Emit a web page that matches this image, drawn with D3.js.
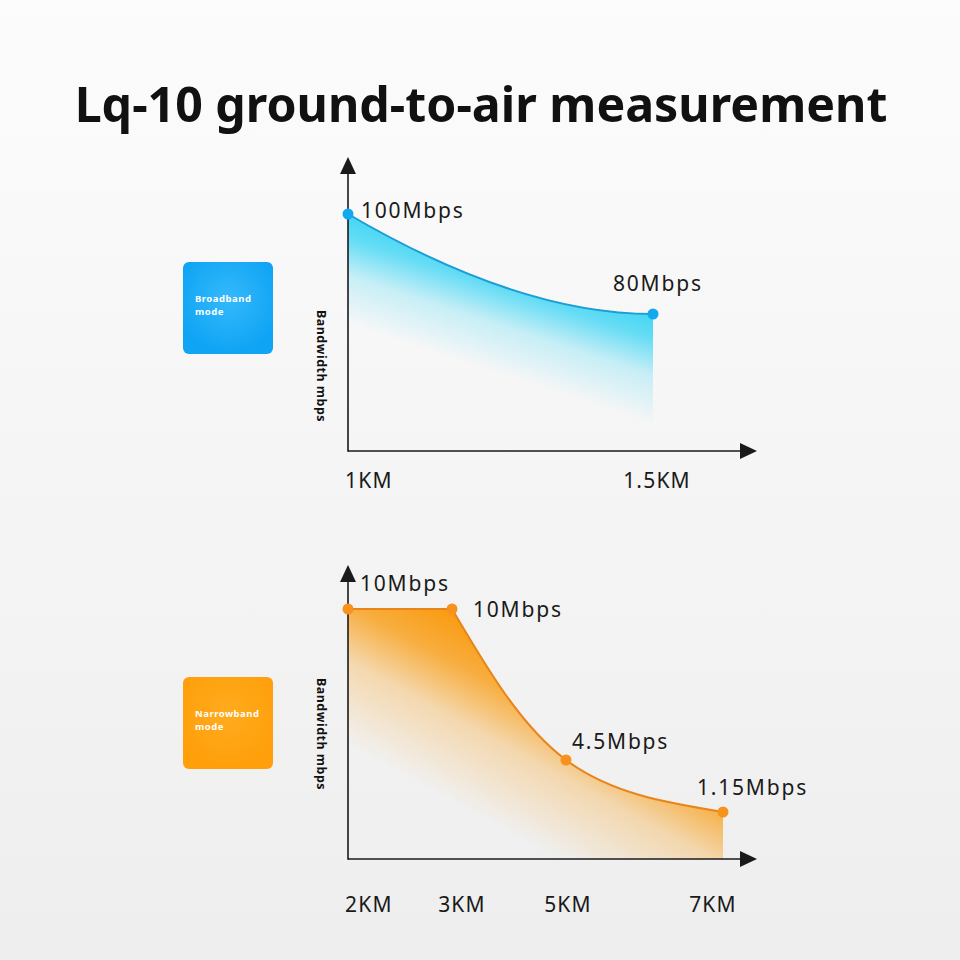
<!DOCTYPE html>
<html>
<head>
<meta charset="utf-8">
<script src="https://cdn.jsdelivr.net/npm/d3@7"></script>
<style>
	body { margin: 0; background: #f4f4f4; }
	text { font-family: "Noto Sans", sans-serif; }
</style>
</head>
<body>
<div id="chart"></div>
<script>
// Chart content
const titleText = "Lq-10 ground-to-air measurement";
const yAxisTitle = "Bandwidth mbps";

const broadbandMode = ["Broadband", "mode"];
const broadbandKm = [1, 1.5];
const broadbandMbps = [100, 80];
const broadbandTicks = ["1KM", "1.5KM"];
const broadbandLabels = ["100Mbps", "80Mbps"];

const narrowbandMode = ["Narrowband", "mode"];
const narrowbandKm = [2, 3, 5, 7];
const narrowbandMbps = [10, 10, 4.5, 1.15];
const narrowbandTicks = ["2KM", "3KM", "5KM", "7KM"];
const narrowbandLabels = ["10Mbps", "10Mbps", "4.5Mbps", "1.15Mbps"];

const width = 960, height = 960;

const svg = d3.select("#chart").append("svg")
	.attr("width", width)
	.attr("height", height);

const defs = svg.append("defs");

// page background, light grey getting a bit darker downwards
const bg = defs.append("linearGradient")
	.attr("id", "bgGrad")
	.attr("x1", 0).attr("y1", 0).attr("x2", 0).attr("y2", 1);
bg.append("stop").attr("offset", "0%").attr("stop-color", "#fcfcfc");
bg.append("stop").attr("offset", "100%").attr("stop-color", "#eeeeee");

svg.append("rect")
	.attr("width", width)
	.attr("height", height)
	.attr("fill", "url(#bgGrad)");

// arrow head for the axes
defs.append("marker")
	.attr("id", "arrow")
	.attr("markerUnits", "userSpaceOnUse")
	.attr("viewBox", "0 0 17 16")
	.attr("markerWidth", 17)
	.attr("markerHeight", 16)
	.attr("refX", 7)
	.attr("refY", 8)
	.attr("orient", "auto")
	.append("path")
	.attr("d", "M0,0L17,8L0,16Z")
	.attr("fill", "#1a1a1a");

// Title
const title = svg.append("text")
	.attr("x", 481)
	.attr("y", 122)
	.attr("text-anchor", "middle")
	.style("font-size", "53px")
	.style("font-weight", 700)
	.attr("fill", "#111")
	.text(titleText);
// fit the title to the width it has in the picture
let titleSize = 53 * 813 / title.node().getComputedTextLength();
title.style("font-size", titleSize + "px");


/*
 * one panel: mode box, y title, gradient area, line, points and labels
 */
function drawPanel(cfg) {
	const g = svg.append("g");
	const x = cfg.x, y = cfg.y;
	const x0 = x.range()[0];

	// mode box
	const boxGrad = defs.append("radialGradient")
		.attr("id", cfg.id + "Box")
		.attr("cx", "50%").attr("cy", "40%").attr("r", "60%");
	boxGrad.append("stop").attr("offset", "0%").attr("stop-color", cfg.boxInner);
	boxGrad.append("stop").attr("offset", "100%").attr("stop-color", cfg.boxOuter);

	g.append("rect")
		.attr("x", 183)
		.attr("y", cfg.boxY)
		.attr("width", 90)
		.attr("height", 92)
		.attr("rx", 6)
		.attr("fill", "url(#" + cfg.id + "Box)");

	// two lines of box text in one text element
	g.append("text")
		.style("font-size", "9.5px")
		.style("font-weight", 700)
		.style("letter-spacing", "0.5px")
		.attr("fill", "#fff")
		.selectAll("tspan")
		.data(cfg.mode)
		.join("tspan")
		.attr("x", 195)
		.attr("y", (d, i) => cfg.boxY + 40 + i * 13)
		.text(d => d);

	// y axis title
	g.append("text")
		.attr("transform", "translate(317," + cfg.titleY + ") rotate(90)")
		.attr("text-anchor", "middle")
		.style("font-size", "12.5px")
		.style("font-weight", 700)
		.style("letter-spacing", "0.5px")
		.attr("fill", "#111")
		.text(yAxisTitle);

	const pts = cfg.km.map((k, i) => [x(k), y(cfg.mbps[i])]);
	const first = pts[0], last = pts[pts.length - 1];

	// fill gradient runs across the chord from the first to the last point
	let dx = last[0] - first[0], dy = last[1] - first[1];
	let len = Math.hypot(dx, dy);
	let n = [-dy / len, dx / len];
	let mid = [(first[0] + last[0]) / 2, (first[1] + last[1]) / 2];
	const fillGrad = defs.append("linearGradient")
		.attr("id", cfg.id + "Fill")
		.attr("gradientUnits", "userSpaceOnUse")
		.attr("x1", mid[0] + n[0] * cfg.fadeFrom)
		.attr("y1", mid[1] + n[1] * cfg.fadeFrom)
		.attr("x2", mid[0] + n[0] * cfg.fadeTo)
		.attr("y2", mid[1] + n[1] * cfg.fadeTo);
	cfg.fillStops.forEach(s => {
		fillGrad.append("stop")
			.attr("offset", s[0])
			.attr("stop-color", cfg.fillColor)
			.attr("stop-opacity", s[1]);
	});

	const linePath = cfg.curve(pts);
	const areaPath = linePath + "L" + last[0] + "," + cfg.axisY + "L" + first[0] + "," + cfg.axisY + "Z";

	g.append("path")
		.attr("d", areaPath)
		.attr("fill", "url(#" + cfg.id + "Fill)");

	g.append("path")
		.attr("d", linePath)
		.attr("fill", "none")
		.attr("stroke", cfg.lineColor)
		.attr("stroke-width", 2);

	// axes with arrow heads
	g.append("line")
		.attr("x1", x0).attr("y1", cfg.axisY)
		.attr("x2", 747).attr("y2", cfg.axisY)
		.attr("stroke", "#1a1a1a")
		.attr("stroke-width", 1.6)
		.attr("marker-end", "url(#arrow)");
	g.append("line")
		.attr("x1", x0).attr("y1", cfg.axisY + 0.8)
		.attr("x2", x0).attr("y2", cfg.yTip + 10)
		.attr("stroke", "#1a1a1a")
		.attr("stroke-width", 1.6)
		.attr("marker-end", "url(#arrow)");

	// points
	g.selectAll(".dot")
		.data(pts)
		.join("circle")
		.attr("class", "dot")
		.attr("cx", d => d[0])
		.attr("cy", d => d[1])
		.attr("r", 5.5)
		.attr("fill", cfg.dotColor);

	// value labels
	g.selectAll(".valueLabel")
		.data(cfg.labels)
		.join("text")
		.attr("class", "valueLabel")
		.attr("x", (d, i) => pts[i][0] + cfg.labelOffsets[i][0])
		.attr("y", (d, i) => pts[i][1] + cfg.labelOffsets[i][1])
		.style("font-size", "21px")
		.style("letter-spacing", "1.8px")
		.attr("fill", "#1a1a1a")
		.text(d => d);

	// km labels under the axis
	g.selectAll(".kmLabel")
		.data(cfg.ticks)
		.join("text")
		.attr("class", "kmLabel")
		.attr("x", (d, i) => x(cfg.km[i]) + cfg.tickShift[i])
		.attr("y", cfg.tickY)
		.attr("text-anchor", (d, i) => i == 0 ? "start" : "middle")
		.style("font-size", "21px")
		.style("letter-spacing", "1.2px")
		.attr("fill", "#1a1a1a")
		.text(d => d);
}

// Broadband: two points joined by a decaying curve
const xTop = d3.scaleLinear().domain(d3.extent(broadbandKm)).range([348, 653]);
const yTop = d3.scaleLinear().domain([80, 100]).range([314, 214]);

function decayCurve(pts) {
	const p = d3.path();
	const a = pts[0], b = pts[1];
	p.moveTo(a[0], a[1]);
	p.quadraticCurveTo(a[0] + 0.56 * (b[0] - a[0]), b[1], b[0], b[1]);
	return p.toString();
}

drawPanel({
	id: "broad",
	x: xTop, y: yTop,
	km: broadbandKm, mbps: broadbandMbps,
	ticks: broadbandTicks, labels: broadbandLabels,
	mode: broadbandMode,
	labelOffsets: [[13, 4], [-40, -23]],
	tickShift: [-3, 4],
	curve: decayCurve,
	axisY: 451, yTip: 157, tickY: 488,
	boxY: 262, titleY: 366,
	boxInner: "#34b9fb", boxOuter: "#0fa4f4",
	fillColor: "#33d3f4",
	fillStops: [[0, 1], [0.3, 0.75], [0.6, 0.25], [1, 0]],
	fadeFrom: -12, fadeTo: 105,
	lineColor: "#1b9dd6",
	dotColor: "#13a9ef"
});

// Narrowband: flat first, then a smooth fall off
const xBottom = d3.scaleLinear().domain(narrowbandKm).range([348, 452, 566, 723]);
const yBottom = d3.scaleLinear().domain([1.15, 4.5, 10]).range([812, 760, 609]);

function flatThenNatural(pts) {
	const flat = d3.line()(pts.slice(0, 2));
	const fall = d3.line().curve(d3.curveNatural)(pts.slice(1));
	return flat + fall.replace(/^M/, "L");
}

drawPanel({
	id: "narrow",
	x: xBottom, y: yBottom,
	km: narrowbandKm, mbps: narrowbandMbps,
	ticks: narrowbandTicks, labels: narrowbandLabels,
	mode: narrowbandMode,
	labelOffsets: [[12, -18], [21, 8], [6, -11], [-26, -17]],
	tickShift: [-3, 10, 2, -10],
	curve: flatThenNatural,
	axisY: 859, yTip: 565, tickY: 912,
	boxY: 677, titleY: 734,
	boxInner: "#ffab1e", boxOuter: "#ff9f0a",
	fillColor: "#f99c12",
	fillStops: [[0, 1], [0.25, 0.8], [0.55, 0.3], [1, 0]],
	fadeFrom: -45, fadeTo: 120,
	lineColor: "#e8841a",
	dotColor: "#f7921c"
});
</script>
</body>
</html>
